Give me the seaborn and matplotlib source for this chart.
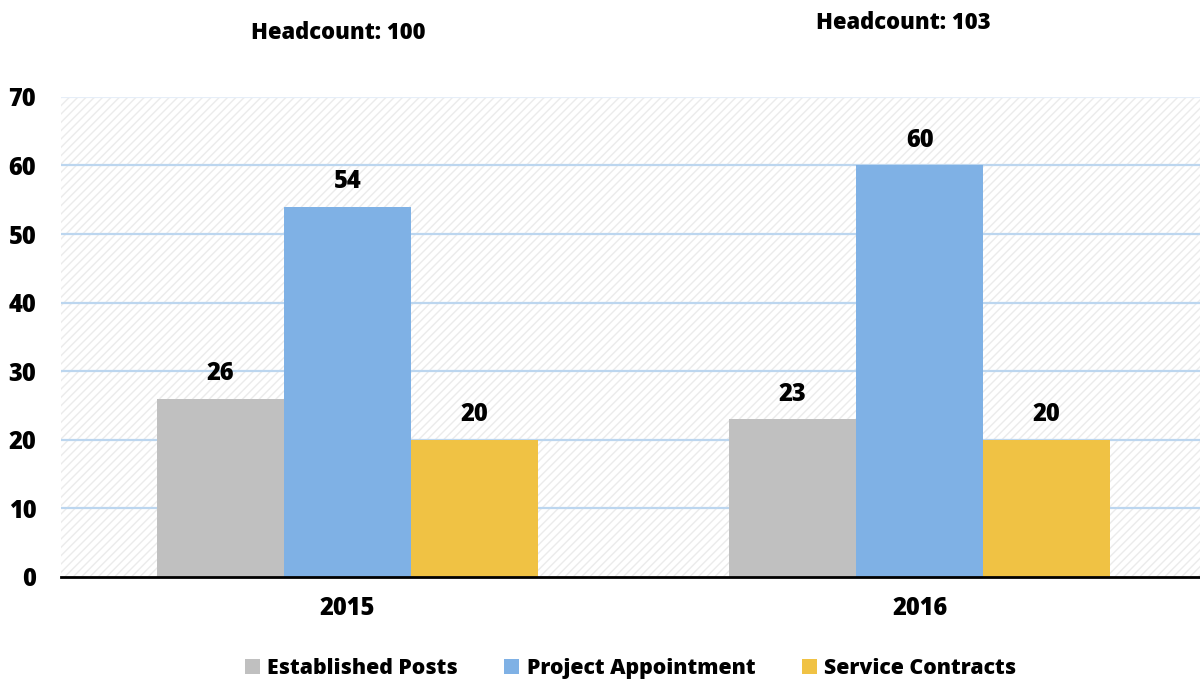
import matplotlib
matplotlib.use("Agg")
import matplotlib.pyplot as plt
import matplotlib.patches as mpatches
import pandas as pd
import seaborn as sns

years = ["2015", "2016"]
categories = ["Established Posts", "Project Appointment", "Service Contracts"]
established = [26, 23]
project = [54, 60]
service = [20, 20]
headcounts = [100, 103]

colors = ["#c0c0c0", "#7fb1e5", "#f0c244"]
W = "heavy"


def build_frame():
    rows = []
    for series, cat in zip([established, project, service], categories):
        for year, val in zip(years, series):
            rows.append({"year": year, "category": cat, "value": val})
    return pd.DataFrame(rows)


def main():
    df = build_frame()

    sns.set_style("white")
    plt.rcParams["font.family"] = ["Open Sans", "DejaVu Sans"]
    plt.rcParams["font.weight"] = W
    plt.rcParams["text.color"] = "black"
    plt.rcParams["hatch.linewidth"] = 1.0

    fig = plt.figure(figsize=(12, 6.82), dpi=100)
    ax = fig.add_axes([0.051, 0.154, 0.949, 0.704])

    # hatched background
    bg = mpatches.Rectangle((0, 0), 1, 1, transform=ax.transAxes, facecolor="white",
                            edgecolor="#ebebeb", hatch="////", linewidth=0, zorder=0)
    ax.add_patch(bg)

    sns.barplot(data=df, x="year", y="value", hue="category", palette=colors,
                width=0.665, gap=0, saturation=1, linewidth=0, ax=ax, zorder=3, legend=True)

    for cont in ax.containers:
        ax.bar_label(cont, padding=9, fontsize=17, fontweight=W, color="black")

    ax.set_ylim(0, 70)
    ax.set_xlim(-0.5, 1.49)
    ax.set_yticks(range(0, 71, 10))
    for y in range(10, 70, 10):
        ax.axhline(y, color="#bcd6ef", linewidth=1.6, zorder=1)
    ax.axhline(70, color="#e6eef8", linewidth=1.6, zorder=1)

    ax.set_xlabel("")
    ax.set_ylabel("")
    ax.tick_params(axis="both", length=0, labelsize=17, labelcolor="black")
    ax.tick_params(axis="x", pad=14)
    ax.tick_params(axis="y", pad=18)
    for lbl in ax.get_xticklabels() + ax.get_yticklabels():
        lbl.set_fontweight(W)
    for side in ["top", "right", "left"]:
        ax.spines[side].set_visible(False)
    ax.spines["bottom"].set_color("black")
    ax.spines["bottom"].set_linewidth(2)
    ax.spines["bottom"].set_zorder(5)

    leg = ax.legend(loc="upper center", bbox_to_anchor=(0.5, -0.128), ncol=3, frameon=False,
                    fontsize=15.3, handlelength=0.7, handleheight=0.7, handletextpad=0.35,
                    columnspacing=2.2)
    for t in leg.get_texts():
        t.set_fontweight(W)

    fig.text(0.282, 0.952, f"Headcount: {headcounts[0]}", ha="center", va="center",
             fontsize=15.8, fontweight=W)
    fig.text(0.753, 0.967, f"Headcount: {headcounts[1]}", ha="center", va="center",
             fontsize=15.8, fontweight=W)

    fig.savefig("out.png", dpi=100)


if __name__ == "__main__":
    main()
